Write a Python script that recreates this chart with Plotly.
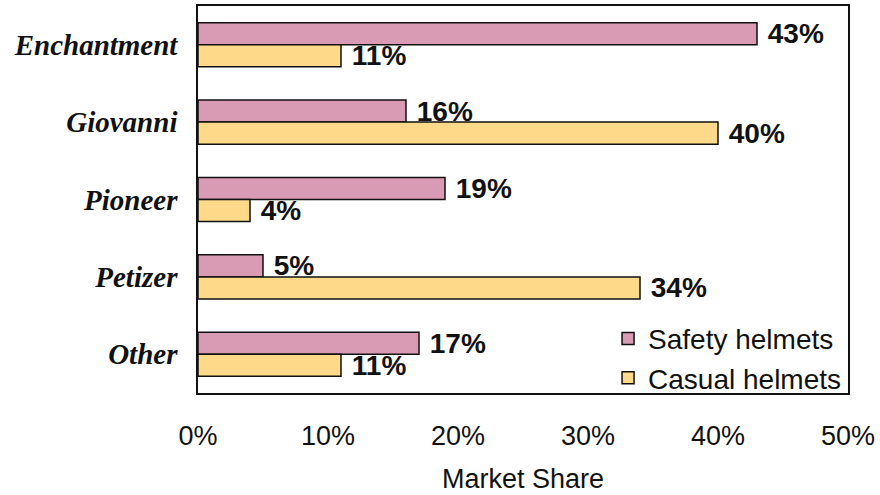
import plotly.graph_objects as go

categories = ["Enchantment", "Giovanni", "Pioneer", "Petizer", "Other"]
safety = [0.43, 0.16, 0.19, 0.05, 0.17]
casual = [0.11, 0.40, 0.04, 0.34, 0.11]
series_names = ["Safety helmets", "Casual helmets"]
tick_vals = [0, 0.1, 0.2, 0.3, 0.4, 0.5]
tick_text = ["0%", "10%", "20%", "30%", "40%", "50%"]

cat_labels = [f"<b><i>{c}</i></b>" for c in categories]
LABEL_FONT = dict(family="Liberation Sans, Arial", size=28, color="#111111")

fig = go.Figure()
fig.add_trace(go.Bar(
    y=cat_labels, x=safety, orientation="h", name=series_names[0],
    marker=dict(color="#D99BB3", line=dict(color="#111111", width=1.5)),
    text=[f"<b> {round(v*100)}%</b>" for v in safety], textposition="outside",
    textfont=LABEL_FONT, constraintext="none", cliponaxis=False,
))
fig.add_trace(go.Bar(
    y=cat_labels, x=casual, orientation="h", name=series_names[1],
    marker=dict(color="#FFD98A", line=dict(color="#111111", width=1.5)),
    text=[f"<b> {round(v*100)}%</b>" for v in casual], textposition="outside",
    textfont=LABEL_FONT, constraintext="none", cliponaxis=False,
))

fig.update_layout(
    width=880, height=495,
    margin=dict(l=198, r=32, t=6, b=102),
    paper_bgcolor="white", plot_bgcolor="white",
    barmode="group", bargap=0.43, bargroupgap=0,
    font=dict(family="Liberation Sans, Arial", color="#111111"),
    showlegend=True,
    legend=dict(x=0.997, xanchor="right", y=-0.025, yanchor="bottom",
                bgcolor="rgba(0,0,0,0)", font=dict(size=28, family="Liberation Sans, Arial"),
                tracegroupgap=0, itemwidth=30),
    xaxis=dict(range=[0, 0.5], tickvals=tick_vals, ticktext=tick_text,
               showgrid=False, zeroline=False, showline=True, linecolor="#111111",
               linewidth=1.5, mirror=True, ticks="", ticklabelstandoff=18,
               automargin=False,
               tickfont=dict(size=27, family="Liberation Sans, Arial"),
               title=dict(text="Market Share", standoff=19,
                          font=dict(size=27, family="Liberation Sans, Arial"))),
    yaxis=dict(autorange="reversed", showgrid=False, showline=True, linecolor="#111111",
               linewidth=1.5, mirror=True, ticks="", ticklabelstandoff=13,
               automargin=False,
               tickfont=dict(size=29, family="Liberation Serif, Times New Roman")),
)

fig.write_html("out.html", config={"displayModeBar": False},
               post_script="document.body.style.margin='0';document.body.style.padding='0';")
